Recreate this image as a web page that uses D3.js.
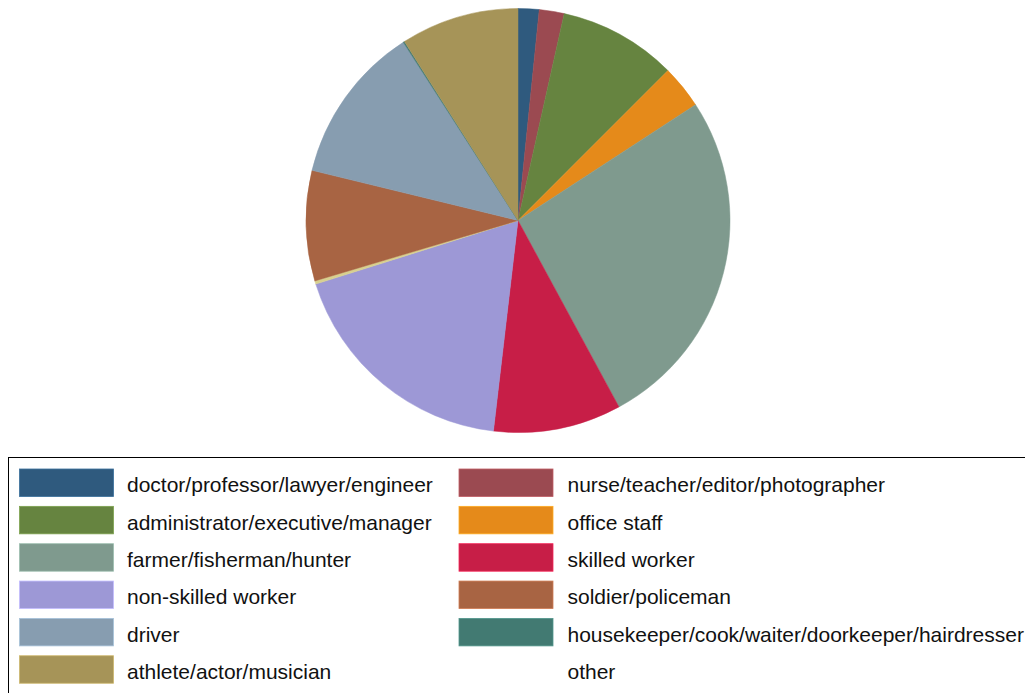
<!DOCTYPE html>
<html><head><meta charset="utf-8">
<script src="https://cdn.jsdelivr.net/npm/d3@7"></script>
<style>body{margin:0;background:#fff}svg{display:block}</style>
</head><body>
<svg id="c" width="1025" height="693"></svg>
<script>
// Legend order categories
const categories = ["doctor/professor/lawyer/engineer","nurse/teacher/editor/photographer","administrator/executive/manager","office staff","farmer/fisherman/hunter","skilled worker","non-skilled worker","soldier/policeman","driver","housekeeper/cook/waiter/doorkeeper/hairdresser","athlete/actor/musician","other"];
const colors = ["#2f5a7e","#9b4a51","#668440","#e58a1a","#7f9a8e","#c71e47","#9d98d6","#a86443","#879db0","#427a72","#a69458","#d8d08f"];
// Pie order (clockwise from 12 o'clock) and shares (%)
const pieOrder = ["doctor/professor/lawyer/engineer","nurse/teacher/editor/photographer","administrator/executive/manager","office staff","farmer/fisherman/hunter","skilled worker","non-skilled worker","other","soldier/policeman","driver","housekeeper/cook/waiter/doorkeeper/hairdresser","athlete/actor/musician"];
const values = [1.6,1.9,9.0,3.3,26.3,9.75,18.3,0.25,8.4,12.1,0.1,9.0];
const legendSwatch = [true,true,true,true,true,true,true,true,true,true,true,false];

const svg = d3.select("#c");
const color = d3.scaleOrdinal().domain(categories).range(colors);
const data = pieOrder.map((k,i)=>({k,v:values[i]}));
const pie = d3.pie().sort(null).value(d=>d.v);
const arc = d3.arc().innerRadius(0).outerRadius(212);
const g = svg.append("g").attr("transform","translate(518,220.5)");
g.selectAll("path").data(pie(data)).join("path")
  .attr("d",arc).attr("fill",d=>color(d.data.k))
  .attr("stroke",d=>color(d.data.k)).attr("stroke-width",0.5);

// Legend
svg.append("rect").attr("x",8.5).attr("y",457.5).attr("width",1030).attr("height",250)
  .attr("fill","none").attr("stroke","#000").attr("stroke-width",1);
const lg = svg.append("g");
categories.forEach((c,i)=>{
  const col = i%2, row = Math.floor(i/2);
  const x = col===0 ? 19.5 : 459;
  const y = 469 + row*37.35;
  if(legendSwatch[i]) lg.append("rect").attr("x",x).attr("y",y).attr("width",94).attr("height",27.5)
     .attr("fill",color(c)).attr("stroke",d3.color(color(c)).brighter(0.6)).attr("stroke-width",0.8);
  lg.append("text").attr("x",x+107.5+(col?1:0)).attr("y",y+23.3).attr("font-family","Liberation Sans, Arial, sans-serif")
    .attr("font-size",21).attr("fill","#111").text(c);
});
</script>
</body></html>
